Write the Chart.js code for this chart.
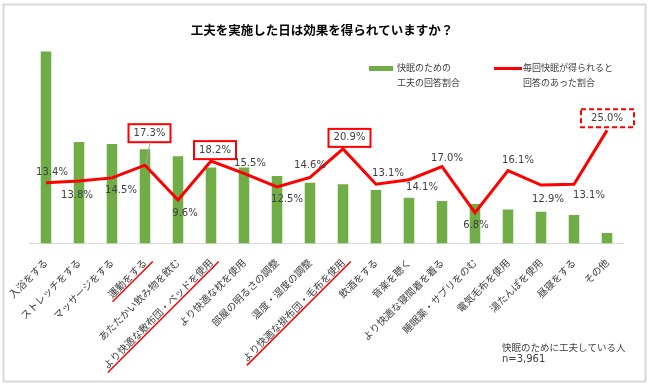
<!DOCTYPE html>
<html><head><meta charset="utf-8">
<script src="https://cdn.jsdelivr.net/npm/chart.js@4/dist/chart.umd.min.js"></script>
<style>html,body{margin:0;padding:0;background:#fff;}canvas{display:block;}</style>
</head><body>
<canvas id="c" width="650" height="387"></canvas>
<script>
const categories = ['入浴をする','ストレッチをする','マッサージをする','運動をする','あたたかい飲み物を飲む','より快適な敷布団・ベッドを使用','より快適な枕を使用','部屋の明るさの調整','温度・湿度の調整','より快適な掛布団・毛布を使用','飲酒をする','音楽を聴く','より快適な寝間着を着る','睡眠薬・サプリをのむ','電気毛布を使用','湯たんぽを使用','昼寝をする','その他'];
const effortShare = [42.4,22.4,22.0,20.8,19.3,16.8,16.8,14.9,13.4,13.1,11.8,10.1,9.4,8.7,7.5,7.0,6.3,2.3];
const satisfiedShare = [13.4,13.8,14.5,17.3,9.6,18.2,15.5,12.5,14.6,20.9,13.1,14.1,17.0,6.8,16.1,12.9,13.1,25.0];
const legendBar = ['快眠のための','工夫の回答割合'];
const legendLine = ['毎回快眠が得られると','回答のあった割合'];
const titleText = '工夫を実施した日は効果を得られていますか？';
const noteLines = ['快眠のために工夫している人','n=3,961'];
const boxedIdx = [3,5,9];
const dashedIdx = 17;
const underlinedIdx = [3,5,9];
// label placement offsets (style)
const labelOffsets = [[6,-10],[-2,14],[9,13],[4.5,-32],[7,13],[4,-11],[6,-10],[10,12],[0,-12],[6.5,-11],[12,-11],[13,8],[5,-8.5],[1,13],[10,-10.6],[7,14],[15,11],[0,-12]];

const FONT = '"Noto Sans CJK JP", "Noto Sans", sans-serif';
const NUMFONT = '"DejaVu Sans", "Noto Sans CJK JP", sans-serif';
const GREEN = '#70AD47', RED = '#FF0000', TXT = '#404040';
const TICK_SIZE = 10, TICK_PAD = 13;

const deco = {
  id: 'deco',
  beforeDraw(chart) {
    const ctx = chart.ctx;
    ctx.save();
    ctx.fillStyle = '#fff';
    ctx.fillRect(0,0,chart.width,chart.height);
    ctx.restore();
  },
  afterDraw(chart) {
    const ctx = chart.ctx;
    const xs = chart.scales.x;
    const lineMeta = chart.getDatasetMeta(1);
    ctx.save();
    // outer border
    ctx.strokeStyle = '#d9d9d9'; ctx.lineWidth = 2;
    ctx.strokeRect(3.5, 4.5, 642, 377);
    // title
    ctx.fillStyle = '#000';
    ctx.font = 'bold 12.5px ' + FONT;
    ctx.textAlign = 'center'; ctx.textBaseline = 'middle';
    ctx.fillText(titleText, 322, 30);
    // legend
    ctx.fillStyle = GREEN; ctx.fillRect(369, 66, 24, 5);
    ctx.strokeStyle = RED; ctx.lineWidth = 3;
    ctx.beginPath(); ctx.moveTo(494, 68.5); ctx.lineTo(522, 68.5); ctx.stroke();
    ctx.fillStyle = TXT; ctx.font = '9px ' + FONT; ctx.textAlign = 'left';
    ctx.fillText(legendBar[0], 397, 68); ctx.fillText(legendBar[1], 397, 83);
    ctx.fillText(legendLine[0], 523, 68); ctx.fillText(legendLine[1], 523, 83);
    // note
    ctx.font = '9.5px ' + FONT;
    ctx.fillText(noteLines[0], 502, 347);
    ctx.font = '10px ' + NUMFONT;
    ctx.fillText(noteLines[1], 502, 359);
    // value labels
    ctx.font = '10px ' + NUMFONT; ctx.textAlign = 'center';
    lineMeta.data.forEach((pt, i) => {
      const lx = pt.x + labelOffsets[i][0], ly = pt.y + labelOffsets[i][1];
      const txt = satisfiedShare[i].toFixed(1) + '%';
      if (boxedIdx.includes(i)) {
        ctx.strokeStyle = RED; ctx.lineWidth = 2; ctx.setLineDash([]);
        ctx.strokeRect(lx - 21, ly - 9, 42, 18);
      }
      if (i === dashedIdx) {
        ctx.strokeStyle = RED; ctx.lineWidth = 2; ctx.setLineDash([5,3]);
        ctx.strokeRect(lx - 26, ly - 9, 53, 18);
        ctx.setLineDash([]);
      }
      if (i === 3) {
        ctx.strokeStyle = '#a6a6a6'; ctx.lineWidth = 1;
        ctx.beginPath(); ctx.moveTo(lx + 0.5, ly + 9); ctx.lineTo(pt.x + 1, pt.y - 1); ctx.stroke();
      }
      ctx.fillStyle = TXT;
      ctx.fillText(txt, lx, ly);
    });
    // underlines for highlighted categories
    ctx.font = TICK_SIZE + 'px ' + FONT;
    const lh = TICK_SIZE * 1.2;
    underlinedIdx.forEach(i => {
      const x = xs.getPixelForTick(i);
      const w = ctx.measureText(categories[i]).width;
      ctx.save();
      ctx.translate(x - lh/2*Math.SQRT1_2, xs.top + TICK_PAD);
      ctx.rotate(-Math.PI/4);
      ctx.strokeStyle = RED; ctx.lineWidth = 1.5;
      ctx.beginPath(); ctx.moveTo(-w - 2, lh/2 + 6); ctx.lineTo(5, lh/2 + 6); ctx.stroke();
      ctx.restore();
    });
    ctx.restore();
  }
};

new Chart(document.getElementById('c'), {
  data: {
    labels: categories,
    datasets: [
      { type: 'bar', label: '快眠のための工夫の回答割合', data: effortShare, backgroundColor: GREEN, borderWidth: 0, barPercentage: 0.32, categoryPercentage: 1, order: 1 },
      { type: 'line', label: '毎回快眠が得られると回答のあった割合', data: satisfiedShare, borderColor: RED, borderWidth: 3, pointRadius: 0, tension: 0, fill: false, order: 0, clip: false }
    ]
  },
  options: {
    responsive: false,
    animation: false,
    layout: { padding: { left: 29.5, right: 26.5, top: 50, bottom: 0 } },
    plugins: { legend: { display: false }, tooltip: { enabled: false }, title: { display: false } },
    scales: {
      x: {
        offset: true,
        grid: { display: false, drawTicks: false },
        border: { display: true, color: '#d9d9d9', width: 1 },
        ticks: { minRotation: 45, maxRotation: 45, autoSkip: false, padding: TICK_PAD, color: TXT, font: { family: FONT, size: TICK_SIZE } },
        afterFit(s) { s.height = 143.5; s.paddingLeft = 0; s.paddingRight = 0; }
      },
      y: { display: false, min: 0, max: 42.75 }
    }
  },
  plugins: [deco]
});
</script>
</body></html>
